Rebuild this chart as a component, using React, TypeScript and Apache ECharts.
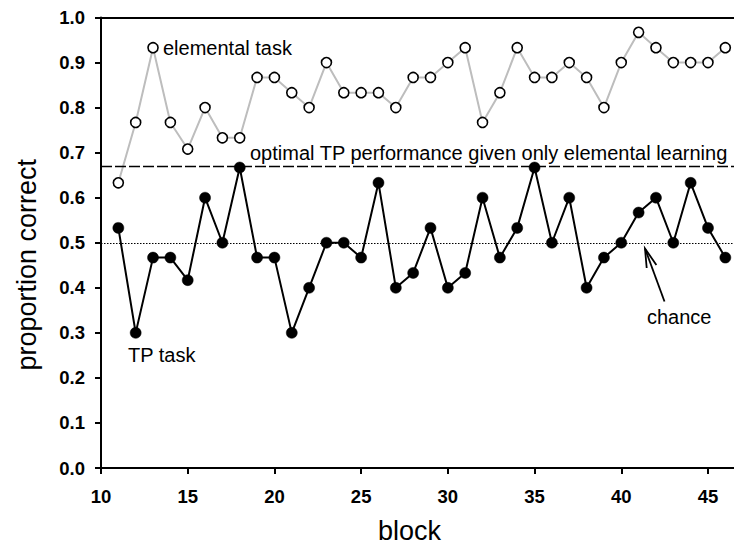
import React, { useEffect, useRef } from "react";
import * as echarts from "echarts";

const blocks = [11, 12, 13, 14, 15, 16, 17, 18, 19, 20, 21, 22, 23, 24, 25, 26, 27, 28, 29, 30, 31, 32, 33, 34, 35, 36, 37, 38, 39, 40, 41, 42, 43, 44, 45, 46];
const elementalTask = [0.633, 0.767, 0.933, 0.767, 0.708, 0.8, 0.733, 0.733, 0.867, 0.867, 0.833, 0.8, 0.9, 0.833, 0.833, 0.833, 0.8, 0.867, 0.867, 0.9, 0.933, 0.767, 0.833, 0.933, 0.867, 0.867, 0.9, 0.867, 0.8, 0.9, 0.967, 0.933, 0.9, 0.9, 0.9, 0.933];
const tpTask = [0.533, 0.3, 0.467, 0.467, 0.417, 0.6, 0.5, 0.667, 0.467, 0.467, 0.3, 0.4, 0.5, 0.5, 0.467, 0.633, 0.4, 0.433, 0.533, 0.4, 0.433, 0.6, 0.467, 0.533, 0.667, 0.5, 0.6, 0.4, 0.467, 0.5, 0.567, 0.6, 0.5, 0.633, 0.533, 0.467];
const xTickValues = [10, 15, 20, 25, 30, 35, 40, 45];
const optimalLevel = 0.667;
const chanceLevel = 0.5;

const FONT = '"Liberation Sans", Arial, Helvetica, sans-serif';

export default function App() {
  const ref = useRef<HTMLDivElement>(null);
  useEffect(() => {
    if (!ref.current) return;
    const chart = echarts.init(ref.current, undefined, { renderer: "svg" });
    const textStyle = (text: string, x: number, y: number) => ({
      type: "text",
      x,
      y,
      silent: true,
      style: {
        text,
        fill: "#000",
        fontSize: 20,
        fontFamily: FONT,
        align: "left",
        verticalAlign: "middle",
      },
    });
    chart.setOption({
      animation: false,
      backgroundColor: "#fff",
      grid: { left: 101, top: 17.5, right: 0, bottom: 77, outerBoundsMode: "none", containLabel: false },
      xAxis: [
        {
          type: "value",
          min: 10,
          max: 46.5,
          interval: 5,
          name: "block",
          nameLocation: "middle",
          nameGap: 49,
          nameTextStyle: { fontSize: 27, fontFamily: FONT, color: "#000", padding: [0, 16, 0, 0] },
          axisLine: { show: true, onZero: false, lineStyle: { color: "#000", width: 2 } },
          axisTick: { show: true, length: 6, customValues: xTickValues, lineStyle: { color: "#000", width: 2 } },
          axisLabel: { customValues: xTickValues, margin: 19, fontSize: 18.5, fontWeight: "bold", fontFamily: FONT, color: "#000" },
          splitLine: { show: false },
        },
        {
          type: "value",
          position: "top",
          min: 10,
          max: 46.5,
          axisLine: { show: true, onZero: false, lineStyle: { color: "#000", width: 2 } },
          axisTick: { show: false },
          axisLabel: { show: false },
          splitLine: { show: false },
        },
      ],
      yAxis: {
        type: "value",
        min: 0,
        max: 1,
        interval: 0.1,
        name: "proportion correct",
        nameLocation: "middle",
        nameGap: 61,
        nameTextStyle: { fontSize: 27, fontFamily: FONT, color: "#000", padding: [0, 44, 0, 0] },
        axisLine: { show: true, onZero: false, lineStyle: { color: "#000", width: 2 } },
        axisTick: { show: true, length: 6, lineStyle: { color: "#000", width: 2 } },
        axisLabel: {
          margin: 16,
          fontSize: 18.5,
          fontWeight: "bold",
          fontFamily: FONT,
          color: "#000",
          padding: [4, 0, 0, 0],
          formatter: (v: number) => v.toFixed(1),
        },
        splitLine: { show: false },
      },
      series: [
        {
          name: "elemental task",
          type: "line",
          data: blocks.map((b, i) => [b, elementalTask[i]]),
          symbol: "circle",
          symbolSize: 10,
          lineStyle: { color: "#bdbdbd", width: 2 },
          itemStyle: { color: "#fff", borderColor: "#000", borderWidth: 1.6 },
          z: 3,
          markLine: {
            silent: true,
            symbol: ["none", "none"],
            label: { show: false },
            data: [
              { yAxis: optimalLevel, lineStyle: { color: "#000", width: 1.3, type: [11, 3] } },
              { yAxis: chanceLevel, lineStyle: { color: "#000", width: 1.2, type: [1.5, 1.5] } },
            ],
          },
        },
        {
          name: "TP task",
          type: "line",
          data: blocks.map((b, i) => [b, tpTask[i]]),
          symbol: "circle",
          symbolSize: 11,
          lineStyle: { color: "#000", width: 2 },
          itemStyle: { color: "#000", borderColor: "#000", borderWidth: 0.5 },
          z: 4,
        },
      ],
      graphic: [
        textStyle("elemental task", 163, 48),
        textStyle("optimal TP performance given only elemental learning", 250, 153),
        textStyle("TP task", 128, 355),
        textStyle("chance", 647, 317),
        {
          type: "line",
          silent: true,
          shape: { x1: 664.5, y1: 301.5, x2: 645, y2: 248.5 },
          style: { stroke: "#000", lineWidth: 1.8 },
        },
        {
          type: "polyline",
          silent: true,
          shape: { points: [[646.7, 268], [645, 248.5], [656.4, 265]] },
          style: { stroke: "#000", lineWidth: 1.8, fill: null },
        },
      ],
    });
    return () => chart.dispose();
  }, []);
  return <div ref={ref} style={{ position: "fixed", left: 0, top: 0, width: 734, height: 545 }} />;
}
